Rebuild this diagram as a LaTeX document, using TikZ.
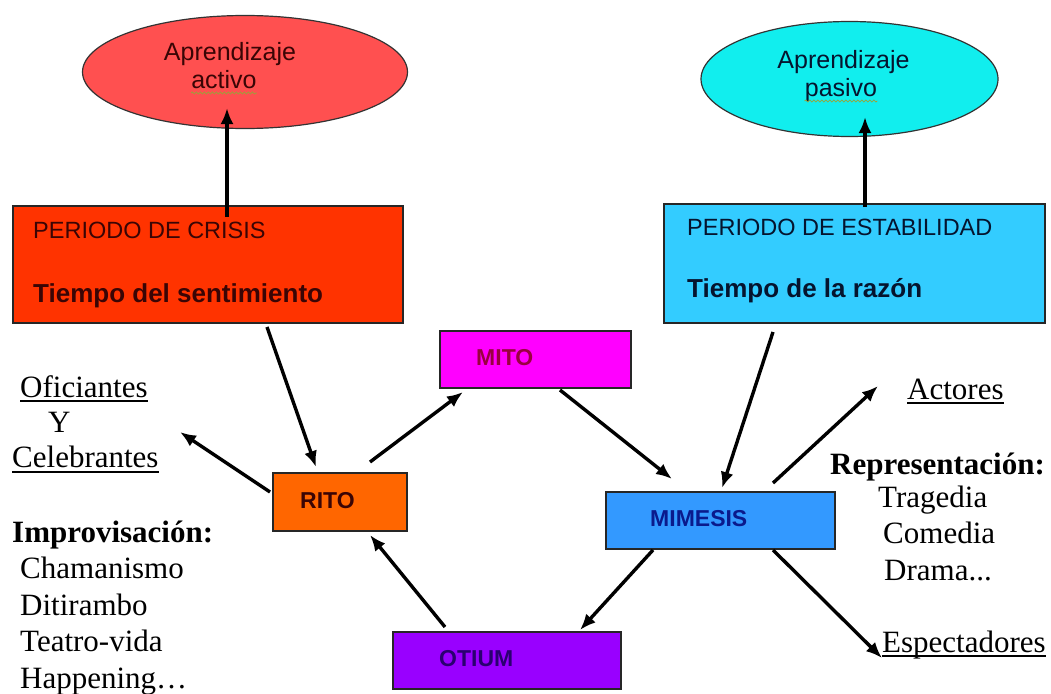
\documentclass[tikz,border=0pt]{standalone}
\usepackage{fontspec}
\setmainfont{Liberation Serif}
\setsansfont{Liberation Sans}
\usetikzlibrary{arrows.meta,shapes.geometric,decorations.pathmorphing}
\definecolor{ellred}{HTML}{FF5050}
\definecolor{ellcyan}{HTML}{11EEEE}
\definecolor{crisisc}{HTML}{FF3300}
\definecolor{estabc}{HTML}{33CCFF}
\definecolor{mitoc}{HTML}{FF00FF}
\definecolor{ritoc}{HTML}{FF6600}
\definecolor{mimesisc}{HTML}{3399FF}
\definecolor{otiumc}{HTML}{9900FF}
\definecolor{darkred}{HTML}{3A0505}
\definecolor{darkblue}{HTML}{05142E}
\definecolor{mitot}{HTML}{9A0040}
\definecolor{mimt}{HTML}{0A1A8C}
\definecolor{otit}{HTML}{2A0070}
\definecolor{squig}{HTML}{9AA23A}
\begin{document}
\begin{tikzpicture}[x=1pt,y=-1pt,
  box/.style={draw=black!85, line width=1.5pt, rectangle, anchor=north west, inner sep=0pt, outer sep=0pt},
  oval/.style={draw=black!80, line width=1.2pt, ellipse, inner sep=0pt, outer sep=0pt},
  lbl/.style={font=\sffamily\bfseries\fontsize{23}{27}\selectfont, anchor=base west, inner sep=0pt},
  hdr/.style={font=\sffamily\fontsize{23.5}{28}\selectfont, anchor=base west, inner sep=0pt},
  hdrb/.style={font=\sffamily\bfseries\fontsize{26}{31}\selectfont, anchor=base west, inner sep=0pt},
  ovtxt/.style={font=\sffamily\fontsize{25}{30}\selectfont, anchor=base, inner sep=0pt},
  ser/.style={font=\fontsize{31}{37}\selectfont, anchor=base west, inner sep=0pt},
  serb/.style={font=\bfseries\fontsize{31}{37}\selectfont, anchor=base west, inner sep=0pt},
  uline/.style={line width=1.5pt},
  arr/.style={line width=3.4pt, -{Latex[length=16pt,width=13pt]}},
  wavy/.style={draw=squig, line width=0.8pt, decorate, decoration={snake, amplitude=1pt, segment length=4pt}}
]
\useasboundingbox (0,0) rectangle (1051,693);

% ellipses
\node[oval, fill=ellred, minimum width=325, minimum height=113] (eact) at (245,72) {};
\node[oval, fill=ellcyan, minimum width=297, minimum height=115] (epas) at (849.5,79) {};
\node[ovtxt, text=darkred] (eact1) at (230,60) {Aprendizaje};
\node[ovtxt, text=darkred] (eact2) at (224,88) {activo};
\node[ovtxt, text=darkblue] (epas1) at (843.5,68) {Aprendizaje};
\node[ovtxt, text=darkblue] (epas2) at (841,96) {pasivo};
\draw[wavy] ([yshift=-5pt]eact2.base west) -- ([yshift=-5pt]eact2.base east);
\draw[wavy] ([yshift=-5pt]epas2.base west) -- ([yshift=-5pt]epas2.base east);

% period boxes
\node[box, fill=crisisc, minimum width=390, minimum height=117] (crisis) at (13,206) {};
\node[box, fill=estabc, minimum width=381, minimum height=119] (estab) at (664,204) {};
\node[hdr, text=darkred] (crisis1) at (33,238) {PERIODO DE CRISIS};
\node[hdrb, text=darkred] (crisis2) at (33,302) {Tiempo del sentimiento};
\node[hdr, text=darkblue] (estab1) at (687,235) {PERIODO DE ESTABILIDAD};
\node[hdrb, text=darkblue] (estab2) at (687,297) {Tiempo de la razón};

% central boxes
\node[box, fill=mitoc, minimum width=191, minimum height=57] (mito) at (440,331) {};
\node[box, fill=ritoc, minimum width=134, minimum height=58] (rito) at (273,473) {};
\node[box, fill=mimesisc, minimum width=229, minimum height=57] (mimesis) at (606,492) {};
\node[box, fill=otiumc, minimum width=228, minimum height=57] (otium) at (393,632) {};
\node[lbl, text=mitot] (mitol) at (476,365) {MITO};
\node[lbl, text=darkred] (ritol) at (300,508) {RITO};
\node[lbl, text=mimt] (mimesisl) at (650,526) {MIMESIS};
\node[lbl, text=otit] (otiuml) at (439,666) {OTIUM};

% left texts
\node[ser] (ofi) at (20,397) {Oficiantes};
\node[ser] (yy) at (48,432) {Y};
\node[ser] (cel) at (12,467) {Celebrantes};
\node[serb] (impr) at (12,542) {Improvisación:};
\node[ser] (cham) at (20,578) {Chamanismo};
\node[ser] (diti) at (20,615) {Ditirambo};
\node[ser] (teat) at (20,651) {Teatro-vida};
\node[ser] (happ) at (20,688) {Happening…};
\draw[uline] ([yshift=-4pt]ofi.base west) -- ([yshift=-4pt]ofi.base east);
\draw[uline] ([yshift=-5pt]cel.base west) -- ([yshift=-5pt]cel.base east);

% right texts
\node[ser] (acto) at (907,399) {Actores};
\node[serb] (repr) at (830,474) {Representación:};
\node[ser] (trag) at (878,507) {Tragedia};
\node[ser] (come) at (883,543) {Comedia};
\node[ser] (dram) at (884,580) {Drama...};
\node[ser] (espe) at (882,652) {Espectadores};
\draw[uline] ([yshift=-4pt]acto.base west) -- ([yshift=-4pt]acto.base east);
\draw[uline] ([yshift=-4pt]espe.base west) -- ([yshift=-4pt]espe.base east);

% connector end points
\coordinate (c1s) at (227,217);  \coordinate (c1e) at (227,108);
\coordinate (c2s) at (865,207);  \coordinate (c2e) at (865,117);
\coordinate (c3s) at (267,327);  \coordinate (c3e) at (316,467);
\coordinate (c4s) at (370,462);  \coordinate (c4e) at (463,392);
\coordinate (c5s) at (270,492);  \coordinate (c5e) at (180,432);
\coordinate (c6s) at (445,627);  \coordinate (c6e) at (370,535);
\coordinate (c7s) at (560,390);  \coordinate (c7e) at (672,479);
\coordinate (c8s) at (773,332);  \coordinate (c8e) at (722,488);
\coordinate (c9s) at (773,483);  \coordinate (c9e) at (878,386);
\coordinate (c10s) at (653,550); \coordinate (c10e) at (580,630);
\coordinate (c11s) at (773,550); \coordinate (c11e) at (882,658);

\draw[arr] (c1s) -- (c1e);
\draw[arr] (c2s) -- (c2e);
\draw[arr] (c3s) -- (c3e);
\draw[arr] (c4s) -- (c4e);
\draw[arr] (c5s) -- (c5e);
\draw[arr] (c6s) -- (c6e);
\draw[arr] (c7s) -- (c7e);
\draw[arr] (c8s) -- (c8e);
\draw[arr] (c9s) -- (c9e);
\draw[arr] (c10s) -- (c10e);
\draw[arr] (c11s) -- (c11e);
\end{tikzpicture}
\end{document}
